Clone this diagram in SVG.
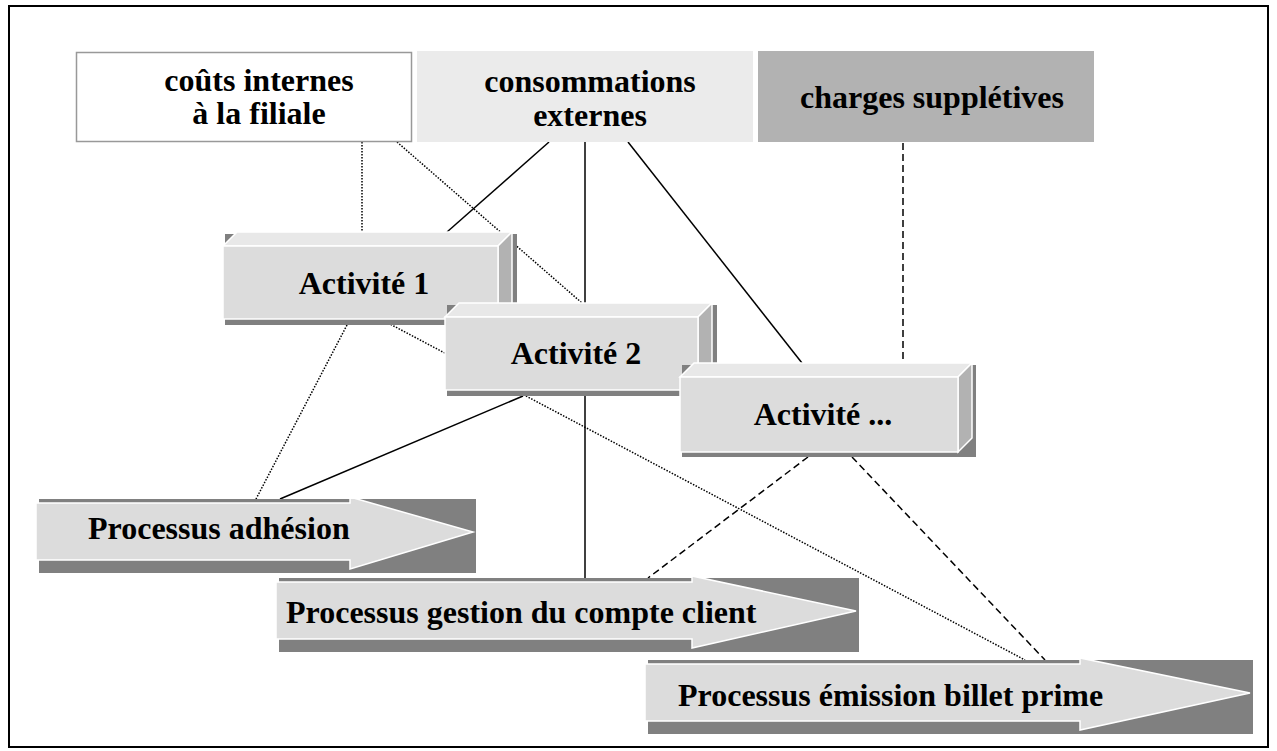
<svg xmlns="http://www.w3.org/2000/svg" width="1277" height="751" viewBox="0 0 1277 751">
<style>
text{font-family:"Liberation Serif","Times New Roman",serif;font-weight:bold;font-size:32px;fill:#000}
.c{text-anchor:middle}
.dot{stroke:#000;stroke-width:1.5;stroke-dasharray:1.5 1.5;fill:none}
.sol{stroke:#000;stroke-width:1.5;fill:none}
.dash{stroke:#000;stroke-width:1.5;stroke-dasharray:7 4;fill:none}
.sh{fill:#808080}
.front{fill:#dcdcdc;stroke:#fff;stroke-width:1.5}
.top{fill:#e8e8e8;stroke:#fff;stroke-width:1.5}
.side{fill:#b2b2b2;stroke:#fff;stroke-width:1.5}
.arr{fill:#dcdcdc;stroke:#fff;stroke-width:1.5}
</style>
<rect x="0" y="0" width="1277" height="751" fill="#fff"/>
<rect x="9" y="6" width="1259" height="741" fill="none" stroke="#000" stroke-width="2"/>

<g id="connectors">
  <line class="dot" x1="362" y1="142" x2="362" y2="232"/>
  <line class="dot" x1="397" y1="142" x2="582" y2="303"/>
  <line class="dot" x1="347" y1="325" x2="256" y2="499"/>
  <line class="dot" x1="388" y1="323" x2="1025" y2="660"/>
  <line class="sol" x1="549" y1="142" x2="447" y2="232"/>
  <line class="sol" x1="585" y1="142" x2="585" y2="578"/>
  <line class="sol" x1="628" y1="142" x2="802" y2="363"/>
  <line class="sol" x1="523" y1="396" x2="280" y2="499"/>
  <line class="dash" x1="903" y1="143" x2="903" y2="363"/>
  <line class="dash" x1="808" y1="457" x2="648" y2="578"/>
  <line class="dash" x1="852" y1="457" x2="1045" y2="660"/>
</g>

<g id="couts-internes">
  <rect x="76.5" y="52.5" width="335" height="89" fill="#fff" stroke="#999" stroke-width="1.5"/>
  <text class="c" x="259" y="91">coûts internes</text>
  <text class="c" x="259" y="124">à la filiale</text>
</g>
<g id="consommations-externes">
  <rect x="417" y="51" width="336" height="91" fill="#ebebeb"/>
  <text class="c" x="590" y="92">consommations</text>
  <text class="c" x="590" y="126">externes</text>
</g>
<g id="charges-suppletives">
  <rect x="758" y="51" width="336" height="91" fill="#b2b2b2"/>
  <text class="c" x="932" y="108">charges supplétives</text>
</g>

<g id="activite-1">
  <rect class="sh" x="225" y="234" width="292" height="91"/>
  <polygon class="top" points="223,246 237,232 512,232 498,246"/>
  <polygon class="side" points="498,246 512,232 512,305 498,319"/>
  <rect class="front" x="223" y="246" width="275" height="73"/>
  <text class="c" x="364" y="294">Activité 1</text>
</g>
<g id="activite-2">
  <rect class="sh" x="447" y="305" width="270" height="91"/>
  <polygon class="top" points="445,317 459,303 712,303 698,317"/>
  <polygon class="side" points="698,317 712,303 712,376 698,390"/>
  <rect class="front" x="445" y="317" width="253" height="73"/>
  <text class="c" x="576" y="364">Activité 2</text>
</g>
<g id="activite-3">
  <rect class="sh" x="682" y="365" width="294" height="92"/>
  <polygon class="top" points="680,377 694,363 972,363 958,377"/>
  <polygon class="side" points="958,377 972,363 972,438 958,452"/>
  <rect class="front" x="680" y="377" width="278" height="75"/>
  <text class="c" x="823" y="425">Activité ...</text>
</g>

<g id="processus-adhesion">
  <rect class="sh" x="39" y="499" width="437" height="74"/>
  <polygon class="arr" points="36,503 350,503 350,497 473,532 350,569 350,560 36,560"/>
  <text x="88" y="539">Processus adhésion</text>
</g>
<g id="processus-gestion">
  <rect class="sh" x="279" y="578" width="580" height="74"/>
  <polygon class="arr" points="276,582 692,582 692,576 856,611 692,648 692,639 276,639"/>
  <text x="286" y="623">Processus gestion du compte client</text>
</g>
<g id="processus-emission">
  <rect class="sh" x="648" y="660" width="605" height="74"/>
  <polygon class="arr" points="645,664 1080,664 1080,658 1250,693 1080,730 1080,721 645,721"/>
  <text x="678" y="706">Processus émission billet prime</text>
</g>
</svg>
